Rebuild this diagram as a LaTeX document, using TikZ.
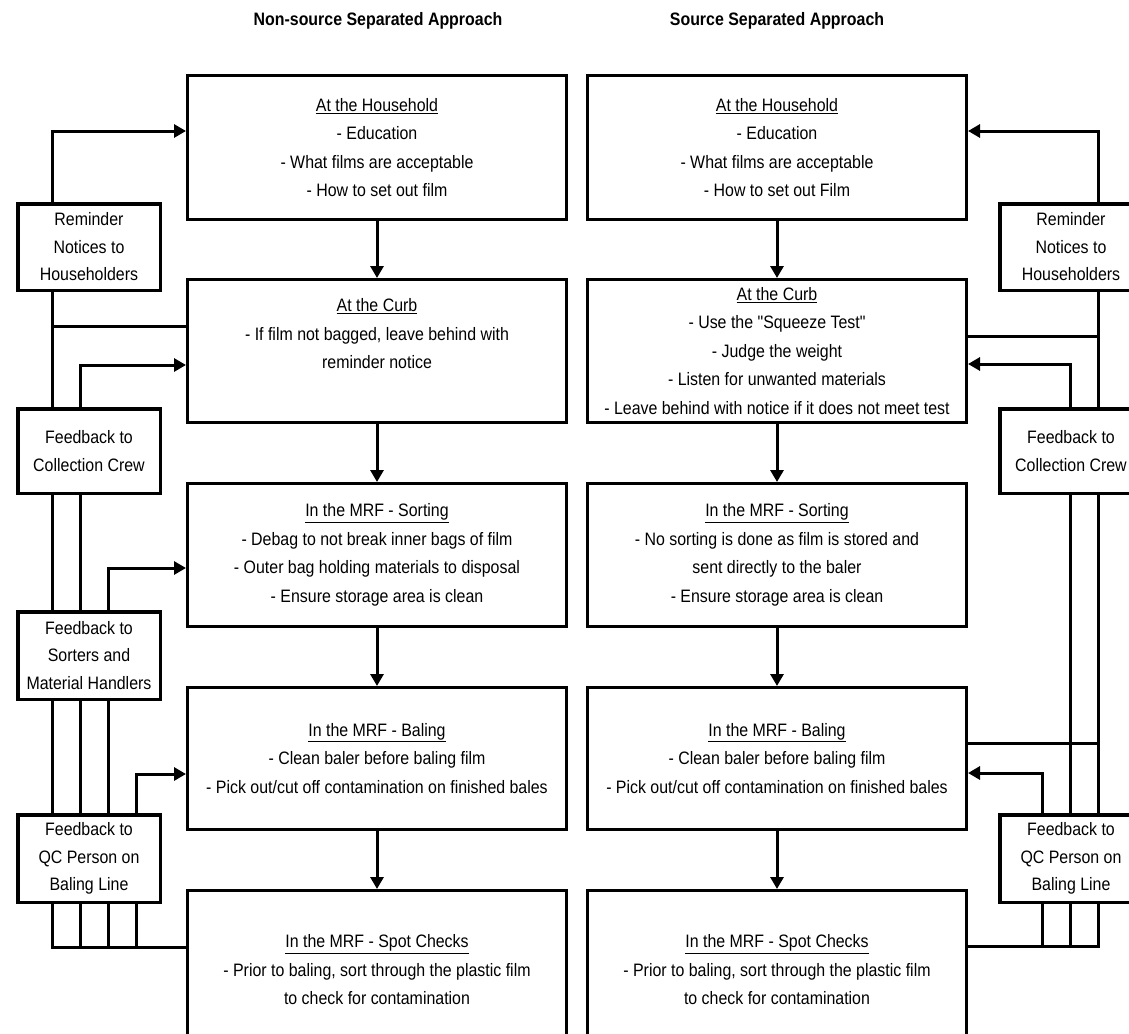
\documentclass[tikz,border=0pt]{standalone}
\usepackage{fontspec}
\setmainfont{Liberation Sans}[FakeStretch=0.885,Ligatures=TeXOff]
\usetikzlibrary{arrows.meta,backgrounds}
\begin{document}
\begin{tikzpicture}[x=1pt,y=-1pt,
  mbox/.style={draw,line width=3pt,fill=white,minimum width=379pt,inner sep=0pt,align=center,font=\fontsize{18}{28.5}\selectfont},
  sbox/.style={draw,line width=3.5pt,fill=white,minimum width=142.5pt,inner sep=0pt,align=center,font=\fontsize{18}{27.5}\selectfont},
  txt/.style={inner sep=0pt,align=center,font=\fontsize{18}{28.5}\selectfont},
  ttl/.style={inner sep=0pt,font=\fontsize{18}{22}\selectfont\bfseries},
  conn/.style={line width=3pt},
  arr/.style={line width=3pt,-{Triangle[length=12pt,width=13pt]}}
]
\useasboundingbox (0,0) rectangle (1129,1033);
\clip (0,0) rectangle (1129,1033);

% titles
\node[ttl] (t1) at (378,21) {Non-source Separated Approach};
\node[ttl] (t2) at (777,21) {Source Separated Approach};

% left column
\node[mbox,minimum height=144pt] (h1) at (377,147.5) {\underline{At the Household}\\- Education\\- What films are acceptable\\- How to set out film};
\node[mbox,minimum height=143pt] (c2) at (377,351) {};
\node[txt] (c2t) at (377,334) {\underline{At the Curb}\\- If film not bagged, leave behind with\\reminder notice};
\node[mbox,minimum height=143pt] (s3) at (377,555) {\underline{In the MRF - Sorting}\\- Debag to not break inner bags of film\\- Outer bag holding materials to disposal\\- Ensure storage area is clean};
\node[mbox,minimum height=142pt] (b4) at (377,758.5) {\underline{In the MRF - Baling}\\- Clean baler before baling film\\- Pick out/cut off contamination on finished bales};
\node[mbox,minimum height=159pt] (p5) at (377,970) {\underline{In the MRF - Spot Checks}\\- Prior to baling, sort through the plastic film\\to check for contamination};

% right column
\node[mbox,minimum height=144pt] (h1r) at (777,147.5) {\underline{At the Household}\\- Education\\- What films are acceptable\\- How to set out Film};
\node[mbox,minimum height=143pt] (c2r) at (777,351) {\underline{At the Curb}\\- Use the "Squeeze Test"\\- Judge the weight\\- Listen for unwanted materials\\- Leave behind with notice if it does not meet test};
\node[mbox,minimum height=143pt] (s3r) at (777,555) {\underline{In the MRF - Sorting}\\- No sorting is done as film is stored and\\sent directly to the baler\\- Ensure storage area is clean};
\node[mbox,minimum height=142pt] (b4r) at (777,758.5) {\underline{In the MRF - Baling}\\- Clean baler before baling film\\- Pick out/cut off contamination on finished bales};
\node[mbox,minimum height=159pt] (p5r) at (777,970) {\underline{In the MRF - Spot Checks}\\- Prior to baling, sort through the plastic film\\to check for contamination};

% left feedback boxes
\node[sbox,minimum height=86.5pt] (rem) at (89,247) {Reminder\\Notices to\\Householders};
\node[sbox,minimum height=84.5pt] (col) at (89,451) {Feedback to\\Collection Crew};
\node[sbox,minimum height=87.5pt] (srt) at (89,655.5) {Feedback to\\Sorters and\\Material Handlers};
\node[sbox,minimum height=87.5pt] (qc) at (89,858.5) {Feedback to\\QC Person on\\Baling Line};

% right feedback boxes
\node[sbox,minimum height=86.5pt] (remr) at (1071,247) {Reminder\\Notices to\\Householders};
\node[sbox,minimum height=84.5pt] (colr) at (1071,451) {Feedback to\\Collection Crew};
\node[sbox,minimum height=87.5pt] (qcr) at (1071,858.5) {Feedback to\\QC Person on\\Baling Line};

\begin{scope}[on background layer]
  % main flow
  \draw[arr] (h1.south) -- (c2.north);
  \draw[arr] (c2.south) -- (s3.north);
  \draw[arr] (s3.south) -- (b4.north);
  \draw[arr] (b4.south) -- (p5.north);
  \draw[arr] (h1r.south) -- (c2r.north);
  \draw[arr] (c2r.south) -- (s3r.north);
  \draw[arr] (s3r.south) -- (b4r.north);
  \draw[arr] (b4r.south) -- (p5r.north);

  % left feedback loops
  \draw[arr] (rem.north -| 52,0) |- (h1.west |- 0,131);
  \draw[conn] (rem.south -| 52,0) |- (c2.west |- 0,326);
  \draw[conn] (rem.south -| 52,0) |- (p5.west |- 0,947);
  \draw[arr] (col.north -| 80,0) |- (c2.west |- 0,365);
  \draw[conn] (col.south -| 80,0) -- (80,947);
  \draw[arr] (srt.north -| 108,0) |- (s3.west |- 0,568);
  \draw[conn] (srt.south -| 108,0) -- (108,947);
  \draw[arr] (qc.north -| 136,0) |- (b4.west |- 0,774);
  \draw[conn] (qc.south -| 136,0) -- (136,947);

  % right feedback loops
  \draw[arr] (remr.north -| 1098,0) |- (h1r.east |- 0,131);
  \draw[conn] (remr.south -| 1098,0) |- (c2r.east |- 0,336);
  \draw[conn] (remr.south -| 1098,0) |- (p5r.east |- 0,946);
  \draw[arr] (colr.north -| 1070,0) |- (c2r.east |- 0,364);
  \draw[conn] (colr.south -| 1070,0) -- (1070,946);
  \draw[conn] (b4r.east |- 0,743) -- (1098,743);
  \draw[arr] (qcr.north -| 1042,0) |- (b4r.east |- 0,773);
  \draw[conn] (qcr.south -| 1042,0) -- (1042,946);
\end{scope}
\end{tikzpicture}
\end{document}
